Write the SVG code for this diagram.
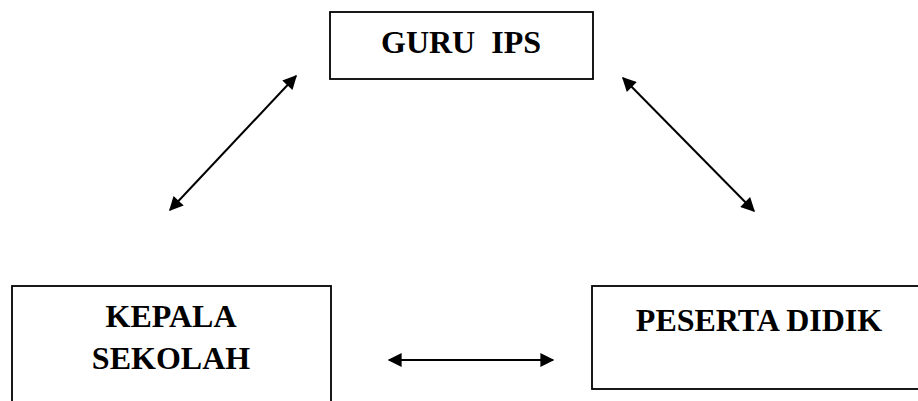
<svg xmlns="http://www.w3.org/2000/svg" width="918" height="401" viewBox="0 0 918 401">
<style>
.box{fill:#fff;stroke:#000;stroke-width:1.8}
.lbl{font-family:"Liberation Serif","Times New Roman",serif;font-weight:bold;font-size:32px;fill:#000;text-anchor:middle}
.conn{stroke:#000;stroke-width:2;fill:none;marker-start:url(#ah);marker-end:url(#ah)}
</style>
<defs>
<marker id="ah" viewBox="0 0 10 10" refX="9" refY="5" markerWidth="8" markerHeight="7" markerUnits="strokeWidth" orient="auto-start-reverse">
<path d="M0,0 L10,5 L0,10 Z" fill="#000"/>
</marker>
</defs>
<rect width="918" height="401" fill="#fff"/>
<g id="guru-ips">
<rect class="box" x="330" y="12" width="263" height="67"/>
<text class="lbl" x="461" y="53" xml:space="preserve">GURU  IPS</text>
</g>
<g id="kepala-sekolah">
<rect class="box" x="12" y="286" width="319" height="130"/>
<text class="lbl" x="171" y="327">KEPALA</text>
<text class="lbl" x="171" y="369">SEKOLAH</text>
</g>
<g id="peserta-didik">
<rect class="box" x="592" y="286" width="340" height="103"/>
<text class="lbl" x="759" y="331">PESERTA DIDIK</text>
</g>
<g id="connectors">
<line class="conn" x1="296" y1="76" x2="170" y2="210"/>
<line class="conn" x1="623" y1="78" x2="754" y2="211"/>
<line class="conn" x1="389" y1="360" x2="553" y2="360"/>
</g>
</svg>
